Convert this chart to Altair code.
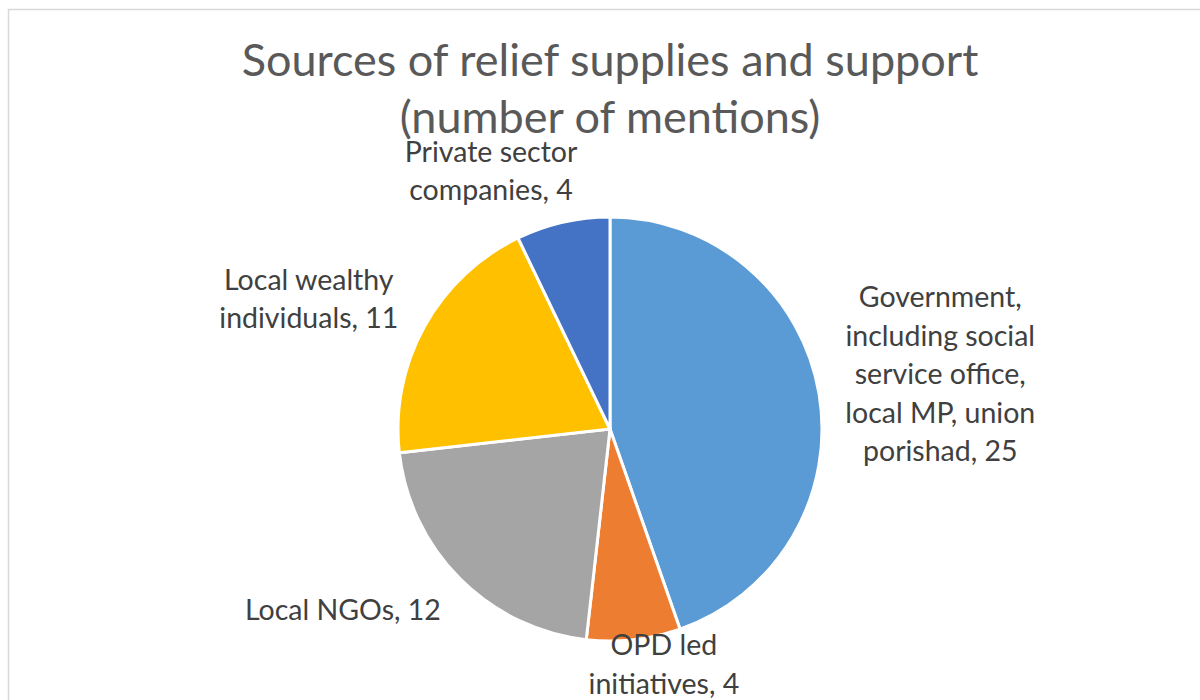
import altair as alt
import pandas as pd

# ---- data ----
CATEGORIES = [
    "Government,\nincluding social\nservice office,\nlocal MP, union\nporishad",
    "OPD led\ninitiatives",
    "Local NGOs",
    "Local wealthy\nindividuals",
    "Private sector\ncompanies",
]
KEYS = ["gov", "opd", "ngo", "wealthy", "private"]
VALUES = [25, 4, 12, 11, 4]
COLORS = ["#5B9BD5", "#ED7D31", "#A5A5A5", "#FFC000", "#4472C4"]
TITLE_LINES = ["Sources of relief supplies and support", "(number of mentions)"]

df = pd.DataFrame({
    "key": KEYS,
    "value": VALUES,
    "idx": list(range(len(KEYS))),
    "label": [f"{c}, {v}" for c, v in zip(CATEGORIES, VALUES)],
})

FONT = "Lato"
R = 212

base = alt.Chart(df).encode(
    theta=alt.Theta("value:Q", stack=True),
    order=alt.Order("idx:Q"),
)

pie = base.mark_arc(radius=R, stroke="white", strokeWidth=3).encode(
    color=alt.Color("key:N", scale=alt.Scale(domain=KEYS, range=COLORS), legend=None)
)

# label placement (style): radius, dx, dy for each slice label
PLACE = {
    "gov": (334, 1, -75),
    "opd": (240, 27, -21),
    "ngo": (300, -55, -30),
    "wealthy": (335, -8, 14),
    "private": (265, -60, -18),
}

label_layers = []
for k in KEYS:
    r, dx, dy = PLACE[k]
    label_layers.append(
        base.mark_text(
            radius=r, dx=dx, dy=dy, font=FONT, fontSize=28.5, color="#404040",
            lineBreak="\n", lineHeight=38.5, align="center", baseline="middle",
        ).encode(
            text=alt.condition(alt.datum.key == k, alt.Text("label:N"), alt.value(""))
        )
    )

title_df = pd.DataFrame({"t": ["\n".join(TITLE_LINES)]})
title = alt.Chart(title_df).mark_text(
    x=590, y=-82, font=FONT, fontSize=45, color="#595959",
    lineBreak="\n", lineHeight=57, align="center", baseline="alphabetic",
).encode(text="t:N")

frame = alt.Chart(pd.DataFrame({"d": [0]})).mark_rect(
    fill=None, stroke="#D9D9D9", strokeWidth=1.5
).encode(
    x=alt.value(-11.5), y=alt.value(-148.5), x2=alt.value(1300), y2=alt.value(700)
)

chart = alt.layer(frame, pie, *label_layers, title).properties(
    width=1180, height=542,
    padding={"left": 20, "top": 158, "right": 0, "bottom": 0},
    autosize=alt.AutoSizeParams(type="none"),
    background="white",
).configure_view(stroke=None)

chart.save("out.html", embed_options={"renderer": "svg", "actions": False})
